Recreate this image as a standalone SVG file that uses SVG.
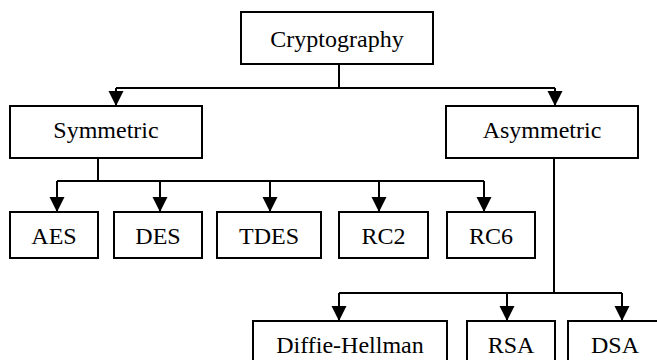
<svg xmlns="http://www.w3.org/2000/svg" width="657" height="360" viewBox="0 0 657 360">
<defs>
<style>
.box{fill:#fff;stroke:#000;stroke-width:2}
.t{font-size:24px;fill:#000;text-anchor:middle}
.ln{fill:none;stroke:#000;stroke-width:2}
.ar{fill:none;stroke:#000;stroke-width:2;marker-end:url(#ah)}
</style>
<marker id="ah" markerUnits="userSpaceOnUse" markerWidth="16" markerHeight="16" refX="15" refY="8" orient="auto" viewBox="0 0 16 16">
<path d="M0,0.5 L15,8 L0,15.5 z" fill="#000"/>
</marker>
</defs>
<rect width="657" height="360" fill="#fff"/>
<g id="connectors">
<path class="ln" d="M339,64 V88 M116,88 H555"/>
<path class="ar" d="M116,88 V106"/>
<path class="ar" d="M555,88 V106"/>
<path class="ln" d="M98,158 V181 M57,181 H484"/>
<path class="ar" d="M57,181 V212"/>
<path class="ar" d="M160,181 V212"/>
<path class="ar" d="M270,181 V212"/>
<path class="ar" d="M379,181 V212"/>
<path class="ar" d="M484,181 V212"/>
<path class="ln" d="M554,158 V293 M339,293 H622"/>
<path class="ar" d="M339,293 V321"/>
<path class="ar" d="M507,293 V321"/>
<path class="ar" d="M622,293 V321"/>
</g>
<g id="cryptography"><rect class="box" x="241" y="12" width="192" height="52"/><text class="t" font-family="Liberation Serif, Times New Roman, serif" x="337" y="47">Cryptography</text></g>
<g id="symmetric"><rect class="box" x="10" y="106" width="192" height="52"/><text class="t" font-family="Liberation Serif, Times New Roman, serif" x="106" y="138">Symmetric</text></g>
<g id="asymmetric"><rect class="box" x="446" y="106" width="192" height="52"/><text class="t" font-family="Liberation Serif, Times New Roman, serif" x="542" y="138">Asymmetric</text></g>
<g id="aes"><rect class="box" x="10" y="212" width="88" height="46"/><text class="t" font-family="Liberation Serif, Times New Roman, serif" x="54" y="244">AES</text></g>
<g id="des"><rect class="box" x="114" y="212" width="88" height="46"/><text class="t" font-family="Liberation Serif, Times New Roman, serif" x="158" y="244">DES</text></g>
<g id="tdes"><rect class="box" x="217" y="212" width="104" height="46"/><text class="t" font-family="Liberation Serif, Times New Roman, serif" x="269" y="244">TDES</text></g>
<g id="rc2"><rect class="box" x="339" y="212" width="89" height="46"/><text class="t" font-family="Liberation Serif, Times New Roman, serif" x="383.5" y="244">RC2</text></g>
<g id="rc6"><rect class="box" x="447" y="212" width="88" height="46"/><text class="t" font-family="Liberation Serif, Times New Roman, serif" x="491" y="244">RC6</text></g>
<g id="diffie-hellman"><rect class="box" x="253" y="321" width="194" height="60"/><text class="t" font-family="Liberation Serif, Times New Roman, serif" x="350" y="353">Diffie-Hellman</text></g>
<g id="rsa"><rect class="box" x="467" y="321" width="88" height="60"/><text class="t" font-family="Liberation Serif, Times New Roman, serif" x="511" y="353">RSA</text></g>
<g id="dsa"><rect class="box" x="568" y="321" width="95" height="60"/><text class="t" font-family="Liberation Serif, Times New Roman, serif" x="615" y="353">DSA</text></g>
</svg>
